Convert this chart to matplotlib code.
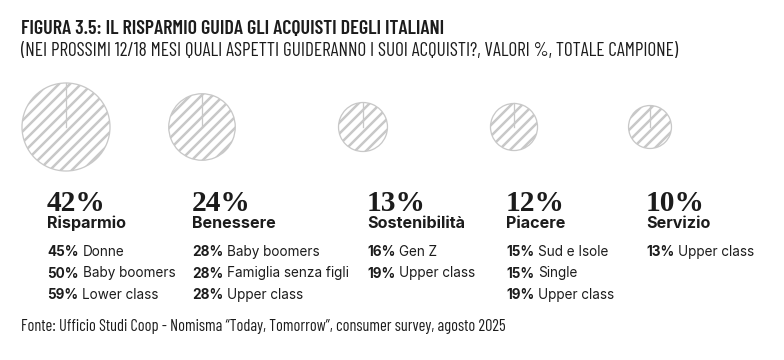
import matplotlib
matplotlib.use("Agg")
import matplotlib.pyplot as plt
import numpy as np

# dati
categorie = ["Risparmio", "Benessere", "Sostenibilità", "Piacere", "Servizio"]
valori = [42, 24, 13, 12, 10]
dettagli = [
    [("45%", "Donne"), ("50%", "Baby boomers"), ("59%", "Lower class")],
    [("28%", "Baby boomers"), ("28%", "Famiglia senza figli"), ("28%", "Upper class")],
    [("16%", "Gen Z"), ("19%", "Upper class")],
    [("15%", "Sud e Isole"), ("15%", "Single"), ("19%", "Upper class")],
    [("13%", "Upper class")],
]
titolo = "FIGURA 3.5: IL RISPARMIO GUIDA GLI ACQUISTI DEGLI ITALIANI"
sottotitolo = "(NEI PROSSIMI 12/18 MESI QUALI ASPETTI GUIDERANNO I SUOI ACQUISTI?, VALORI %, TOTALE CAMPIONE)"
fonte = "Fonte: Ufficio Studi Coop - Nomisma \u201cToday, Tomorrow\u201d, consumer survey, agosto 2025"

# layout (pixel)
W, H, DPI = 784, 360, 132
cx = [66, 202, 363, 514, 650]
tx = [47, 192, 367, 506, 646]
cy = 127
k = 6.79  # raggio = k * sqrt(valore)

INK = "#1c1c1c"
GREY = "#c8c8c8"
narrow = ["Barlow Condensed", "Roboto Condensed", "DejaVu Sans"]
sans = ["Inter", "Roboto", "DejaVu Sans"]
serif = ["Liberation Serif", "DejaVu Serif"]

plt.rcParams["hatch.linewidth"] = 1.35

fig = plt.figure(figsize=(W / DPI, H / DPI), dpi=DPI)
ax = fig.add_axes([0, 0, 1, 1])

for i, v in enumerate(valori):
    r = k * np.sqrt(v)
    ax.pie([v], radius=r, center=(cx[i], cy), startangle=270,
           hatch="////", frame=False,
           wedgeprops=dict(facecolor="white", edgecolor=GREY, linewidth=0.7))
    ax.plot([cx[i], cx[i]], [cy, cy - r], color=GREY, lw=0.7)

    ax.text(tx[i], 211, f"{v}%", family=serif, weight="bold", fontsize=16,
            color=INK, va="baseline", ha="left")
    ax.text(tx[i], 228, categorie[i], family=sans, weight="bold", fontsize=8.8,
            color=INK, va="baseline", ha="left")
    for j, (pct, lab) in enumerate(dettagli[i]):
        t = ax.text(tx[i], 256 + j * 21.5, pct, family=sans, weight="bold",
                    fontsize=7.4, color=INK, va="baseline", ha="left")
        ax.annotate(lab, xy=(1, 0), xycoords=t, xytext=(2.2, 0),
                    textcoords="offset points", family=sans, fontsize=7.4,
                    color=INK, va="bottom", ha="left")

ax.text(21, 34, titolo, family=narrow, weight="semibold", fontsize=10.9,
        color=INK, va="baseline", ha="left")
ax.text(21, 55.5, sottotitolo, family=narrow, fontsize=10.5,
        color=INK, va="baseline", ha="left")
ax.text(21, 331.5, fonte, family=narrow, fontsize=8.9,
        color=INK, va="baseline", ha="left")

ax.set_xlim(0, W)
ax.set_ylim(H, 0)
ax.set_aspect("equal")
ax.axis("off")

fig.savefig("out.png", dpi=DPI, facecolor="white")
